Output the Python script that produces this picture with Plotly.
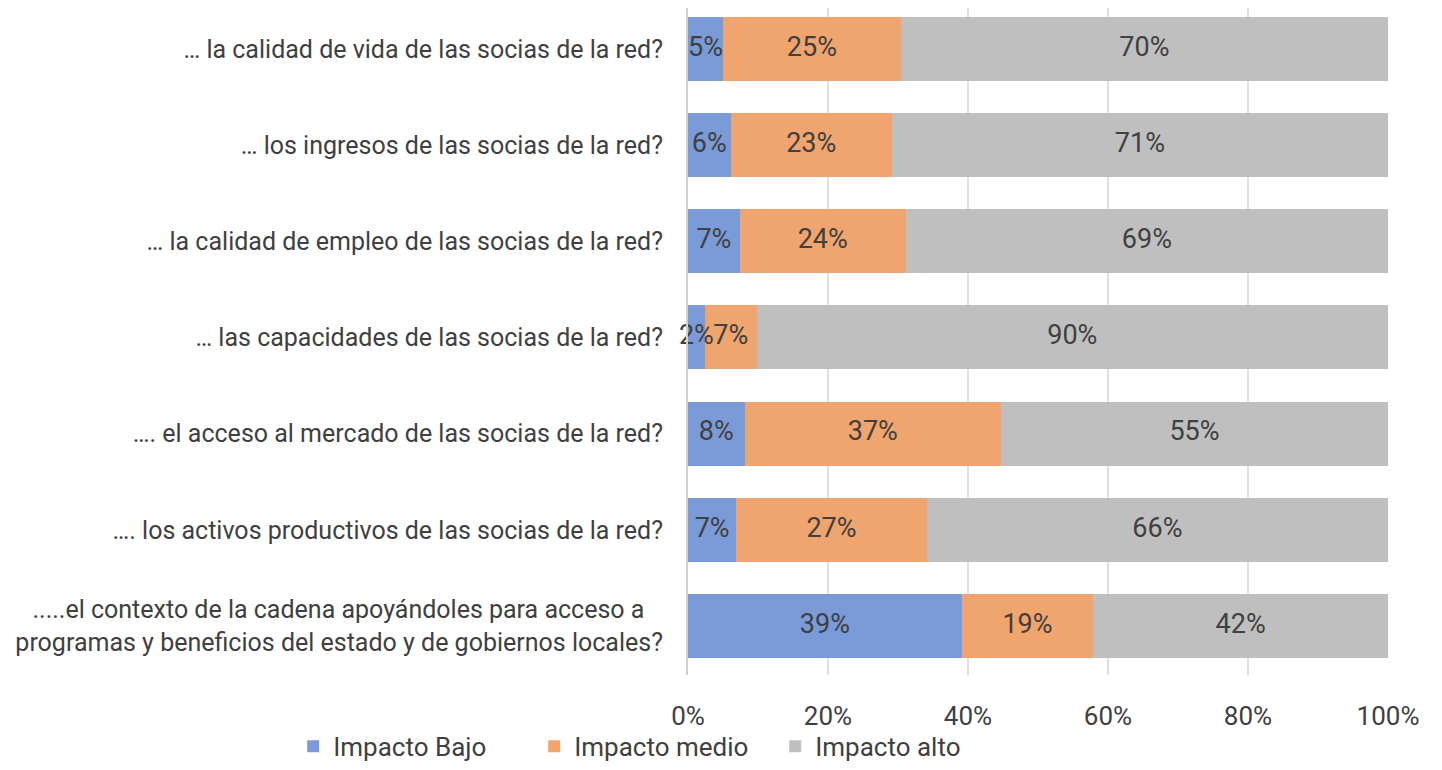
import plotly.graph_objects as go

# Data (share of respondents, %)
categories = [
    "… la calidad de vida de las socias de la red?",
    "… los ingresos de las socias de la red?",
    "… la calidad de empleo de las socias de la red?",
    "… las capacidades de las socias de la red?",
    "…. el acceso al mercado de las socias de la red?",
    "…. los activos productivos de las socias de la red?",
    ".....el contexto de la cadena apoyándoles para acceso a\u00a0\u00a0\u00a0<br>programas y beneficios del estado y de gobiernos locales?",
]
impacto_bajo = [5.0, 6.1, 7.4, 2.4, 8.1, 6.9, 39.1]
impacto_medio = [25.4, 23.0, 23.7, 7.4, 36.6, 27.2, 18.8]
impacto_alto = [69.6, 70.9, 68.9, 90.2, 55.3, 65.9, 42.1]

series_names = ["Impacto Bajo", "Impacto medio", "Impacto alto"]
colors = ["#7b9bd8", "#f0a46e", "#bfbfbf"]
x_ticks = [0, 20, 40, 60, 80, 100]
x_ticklabels = ["0%", "20%", "40%", "60%", "80%", "100%"]

font_family = "Roboto, Arial, sans-serif"
text_color = "#404040"

fig = go.Figure()
series = [impacto_bajo, impacto_medio, impacto_alto]
for name, vals, col in zip(series_names, series, colors):
    fig.add_trace(go.Bar(
        y=categories, x=vals, name=name, orientation="h",
        marker=dict(color=col, line=dict(width=0)),
    ))

# segment labels as text traces so small ones can spill past the axis
base = [0.0] * len(categories)
for vals in series:
    mids = [b + v / 2 for b, v in zip(base, vals)]
    fig.add_trace(go.Scatter(
        x=mids, y=categories, mode="text",
        text=[f"{v:.0f}%" for v in vals],
        textfont=dict(size=27, color=text_color, family=font_family),
        cliponaxis=False, showlegend=False, hoverinfo="skip",
    ))
    base = [b + v for b, v in zip(base, vals)]

# page body has an 8px margin, so the figure is 16px smaller than the window
fig.update_layout(
    barmode="stack",
    bargap=0.335,
    width=1426, height=754,
    plot_bgcolor="white", paper_bgcolor="white",
    margin=dict(l=680, r=46, t=0, b=87, autoexpand=False),
    font=dict(family=font_family, size=25, color=text_color),
    xaxis=dict(
        range=[0, 100], tickmode="array", tickvals=x_ticks, ticktext=x_ticklabels,
        showgrid=True, gridcolor="#e0e0e0", gridwidth=2,
        zeroline=False, showline=False,
        ticks="outside", ticklen=18, tickcolor="rgba(0,0,0,0)",
        tickfont=dict(size=26, color=text_color),
    ),
    yaxis=dict(
        range=[6.51, -0.426], showgrid=False, zeroline=False,
        showline=True, linecolor="#d0d0d0", linewidth=2,
        ticks="outside", ticklen=18, tickcolor="rgba(0,0,0,0)",
        tickfont=dict(size=25, color=text_color),
        automargin=False,
    ),
    legend=dict(
        orientation="h", x=-0.564, xanchor="left", y=-0.107, yanchor="middle",
        font=dict(size=26, color=text_color), traceorder="normal",
        entrywidth=196, bgcolor="rgba(0,0,0,0)",
    ),
    showlegend=True,
)

fig.write_html("out.html")
